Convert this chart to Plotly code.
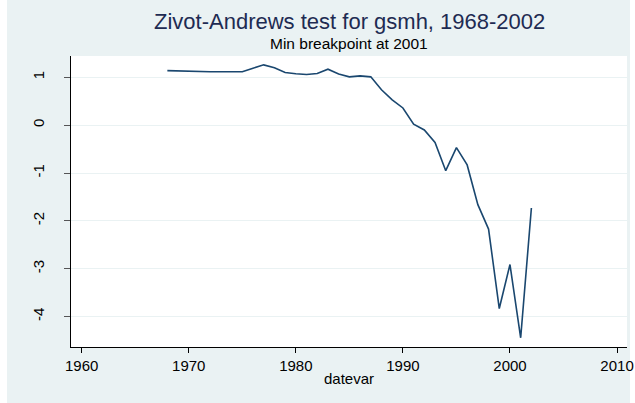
import plotly.graph_objects as go

years = list(range(1968, 2003))
za_stat = [1.14, 1.13, 1.125, 1.12, 1.115, 1.115, 1.115, 1.115, 1.19, 1.26, 1.20,
           1.10, 1.075, 1.06, 1.08, 1.17, 1.07, 1.01, 1.03, 1.01, 0.74, 0.53,
           0.36, 0.02, -0.10, -0.36, -0.95, -0.47, -0.83, -1.66, -2.17, -3.83,
           -2.91, -4.44, -1.73]

x_ticks = [1960, 1970, 1980, 1990, 2000, 2010]
y_ticks = [-4, -3, -2, -1, 0, 1]
y_tick_labels = ["-4", "-3", "-2", "-1", "0", "1"]

title_text = "Zivot-Andrews test for gsmh, 1968-2002"
subtitle_text = "Min breakpoint at 2001"
x_title = "datevar"

BG = "#eaf2f3"
FONT = "Liberation Sans, Arial, sans-serif"

fig = go.Figure()
fig.add_trace(go.Scatter(x=years, y=za_stat, mode="lines",
                         line=dict(color="#1a476f", width=1.6),
                         showlegend=False, hoverinfo="x+y"))

fig.update_layout(
    width=635, height=403,
    margin=dict(l=71, r=8, t=56, b=56, autoexpand=False),
    paper_bgcolor=BG,
    plot_bgcolor="white",
    font=dict(family=FONT, size=15, color="black"),
    xaxis=dict(range=[1959.0, 2010.93], tickvals=x_ticks, ticks="outside",
               ticklen=5, tickcolor="black", showline=True, linecolor="black",
               linewidth=1, showgrid=False, zeroline=False, automargin=False,
               title=dict(text=x_title, standoff=0, font=dict(size=15))),
    yaxis=dict(range=[-4.633, 1.445], tickvals=y_ticks, ticktext=y_tick_labels,
               ticks="outside", automargin=False,
               ticklen=6, tickcolor="#555555", showline=True, linecolor="black",
               linewidth=1, showgrid=True, gridcolor=BG, gridwidth=1,
               zeroline=False, tickangle=-90, ticklabelstandoff=14),
    annotations=[
        dict(text=title_text, x=0.5, y=22, xref="paper", yref="paper",
             showarrow=False, font=dict(size=22, color="#1e2b52", family=FONT)),
        dict(text=subtitle_text, x=0.5, y=44, xref="paper", yref="paper",
             showarrow=False, font=dict(size=15.5, color="black", family=FONT)),
    ],
    shapes=[
        dict(type="rect", xref="paper", yref="paper", x0=-71/556, x1=-64/556,
             y0=-1, y1=2, fillcolor="white", line=dict(width=0), layer="below"),
        dict(type="rect", xref="paper", yref="paper", x0=(630-71)/556, x1=(640-71)/556,
             y0=-1, y1=2, fillcolor="white", line=dict(width=0), layer="below"),
    ],
)

# convert annotation pixel y positions to paper coords
ph = 403 - 56 - 56
for ann in fig.layout.annotations:
    py = ann.y
    ann.y = (347 - py) / ph
    ann.yanchor = "middle"

fig.write_html("out.html", config={"displayModeBar": False},
               post_script="document.body.style.margin='0';document.body.style.overflow='hidden';")
